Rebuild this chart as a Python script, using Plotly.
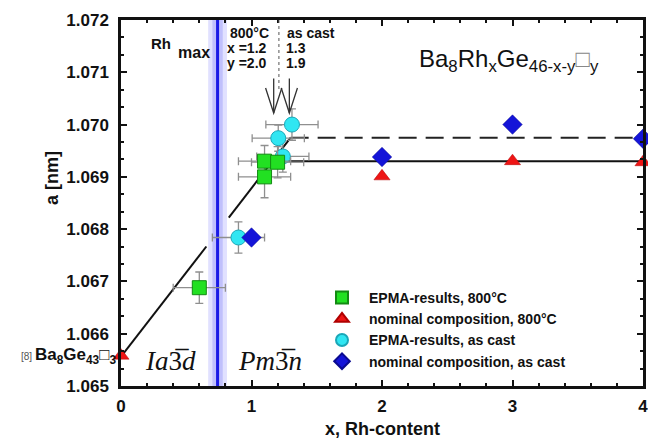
import numpy as np
import plotly.graph_objects as go

# ---------------- data ----------------
epma800_x = [0.6, 1.1, 1.1, 1.2]
epma800_y = [1.06688, 1.06900, 1.06930, 1.06928]
epma800_ex = [0.2, 0.2, 0.2, 0.2]
epma800_ey = [0.0003, 0.0004, 0.0003, 0.0003]

nom800_x = [0, 2, 3, 4]
nom800_y = [1.06558, 1.06901, 1.06930, 1.06928]

epmacast_x = [0.9, 1.24, 1.205, 1.31]
epmacast_y = [1.06784, 1.06939, 1.06974, 1.07000]
epmacast_ex = [0.2, 0.2, 0.2, 0.2]
epmacast_ey = [0.0003, 0.0003, 0.00025, 0.0003]

nomcast_x = [1.0, 2, 3, 4]
nomcast_y = [1.06784, 1.06938, 1.07000, 1.06973]

# fitted trend lines (knot points)
line800_x = [0.0, 1.16, 4.0]
line800_y = [1.06556, 1.06930, 1.06930]
linecast_x = [0.0, 1.30, 4.0]
linecast_y = [1.06556, 1.06975, 1.06975]

band_center = 0.74
band_half = 0.072
gap_half = 0.086

arrow_x = [1.17, 1.29]
arrow_top = 1.07088
arrow_tip = 1.07022
dotted_x = 1.21

FONT = "Arial, Liberation Sans, sans-serif"
SERIF = "Times New Roman, Liberation Serif, serif"

L, R, T, B = 121, 5, 20, 54
W, H = 648, 440
PW, PH = W - L - R, H - T - B

fig = go.Figure()

# rising segment (shared), with gap across the Rh_max band
rx0, rx1 = linecast_x[0], linecast_x[1]
gx0, gx1 = band_center - gap_half, band_center + gap_half
rise_x = [rx0, gx0, None, gx1, rx1]
rise_y = [np.interp(v, linecast_x, linecast_y) if v is not None else None for v in rise_x]
fig.add_trace(go.Scatter(x=rise_x, y=rise_y, mode="lines", line=dict(color="#111", width=2),
                         showlegend=False, hoverinfo="skip", cliponaxis=False))
# 800C plateau
fig.add_trace(go.Scatter(x=line800_x[1:], y=line800_y[1:], mode="lines",
                         line=dict(color="#111", width=2), showlegend=False, cliponaxis=False))
# as cast plateau (dashed)
fig.add_trace(go.Scatter(x=linecast_x[1:], y=linecast_y[1:], mode="lines",
                         line=dict(color="#222", width=2, dash="18px,9px"), showlegend=False,
                         cliponaxis=False))

eb = dict(type="data", color="#8f8f8f", thickness=1.3, width=4)

fig.add_trace(go.Scatter(
    x=epmacast_x, y=epmacast_y, mode="markers", name="EPMA-results, as cast",
    marker=dict(symbol="circle", size=15, color="#30e6f2", line=dict(color="#1aa7b8", width=1)),
    error_x=dict(array=epmacast_ex, **eb), error_y=dict(array=epmacast_ey, **eb),
    cliponaxis=False, legendrank=3))
fig.add_trace(go.Scatter(
    x=epma800_x, y=epma800_y, mode="markers", name="EPMA-results, 800°C",
    marker=dict(symbol="square", size=14, color="#22e022", line=dict(color="#138a13", width=1)),
    error_x=dict(array=epma800_ex, **eb), error_y=dict(array=epma800_ey, **eb),
    cliponaxis=False, legendrank=1))
fig.add_trace(go.Scatter(
    x=nomcast_x, y=nomcast_y, mode="markers", name="nominal composition, as cast",
    marker=dict(symbol="diamond", size=15, color="#1414d8", line=dict(color="#0a0a90", width=0.5)),
    cliponaxis=False, legendrank=4))
fig.add_trace(go.Scatter(
    x=nom800_x, y=nom800_y, mode="markers", name="nominal composition, 800°C",
    marker=dict(symbol="triangle-up", size=14, color="#ee1515", line=dict(color="#b00000", width=0.5)),
    cliponaxis=False, legendrank=2))

shapes = []
# Rh_max band
shapes.append(dict(type="rect", xref="x", yref="paper", x0=band_center - band_half,
                   x1=band_center + band_half, y0=0, y1=1, fillcolor="rgba(200,200,255,0.55)",
                   line=dict(width=0), layer="below"))
shapes.append(dict(type="rect", xref="x", yref="paper", x0=band_center - band_half * 0.55,
                   x1=band_center + band_half * 0.55, y0=0, y1=1, fillcolor="rgba(160,160,250,0.5)",
                   line=dict(width=0), layer="below"))
shapes.append(dict(type="line", xref="x", yref="paper", x0=band_center, x1=band_center, y0=0, y1=1,
                   line=dict(color="#1a1ae6", width=3), layer="below"))
# dotted separator
shapes.append(dict(type="line", xref="x", yref="y", x0=dotted_x, x1=dotted_x, y0=1.072, y1=1.07068,
                   line=dict(color="#555", width=1, dash="dot")))
# arrows
hx, hy = 0.062, 0.00048
for ax in arrow_x:
    shapes.append(dict(type="line", xref="x", yref="y", x0=ax, x1=ax, y0=arrow_top, y1=arrow_tip,
                       line=dict(color="#333", width=1.3)))
    shapes.append(dict(type="path", xref="x", yref="y",
                       path=f"M {ax-hx},{arrow_tip+hy} L {ax},{arrow_tip} L {ax+hx},{arrow_tip+hy}",
                       line=dict(color="#333", width=1.3)))

bold = dict(family=FONT, size=14, color="#111", weight="bold")
ann = []
def A(text, x, y, xref="x", yref="y", font=None, xanchor="center", yanchor="middle", angle=0):
    ann.append(dict(text=text, x=x, y=y, xref=xref, yref=yref, showarrow=False, textangle=angle,
                    font=font or bold, xanchor=xanchor, yanchor=yanchor))

def px2x(px): return (px - L) / PW * 4
def py2y(py): return 1.065 + (T + PH - py) / PH * 0.007
def ppx(px): return (px - L) / PW
def ppy(py): return 1 - (py - T) / PH

A("Rh", px2x(161), py2y(43), font=dict(family=FONT, size=15, color="#111", weight="bold"))
A("max", px2x(194), py2y(52), font=dict(family=FONT, size=16, color="#111", weight="bold"))
A("800°C", px2x(249), py2y(33))
A("x =1.2", px2x(247), py2y(48))
A("y =2.0", px2x(247), py2y(63))
A("as cast", px2x(311), py2y(33))
A("1.3", px2x(296), py2y(48))
A("1.9", px2x(296), py2y(63))
A("Ba<sub>8</sub>Rh<sub>x</sub>Ge<sub>46-x-y</sub><span style='color:#888'>□</span><sub>y</sub>",
  px2x(509), py2y(60), font=dict(family=FONT, size=24, color="#111"))
A("<i>Ia</i>3\u0305<i>d</i>", px2x(170), py2y(361), font=dict(family=SERIF, size=27, color="#111"))
A("<i>Pm</i>3\u0305<i>n</i>", px2x(270), py2y(361), font=dict(family=SERIF, size=27, color="#111"))
A("<span style='font-size:10px;font-weight:normal;color:#555'>[8] </span>Ba<sub>8</sub>Ge<sub>43</sub>□<sub>3</sub>",
  ppx(118), ppy(356), xref="paper", yref="paper", xanchor="right",
  font=dict(family=FONT, size=17, color="#111", weight="bold"))
# axis titles
A("x, Rh-content", ppx(382), ppy(429), xref="paper", yref="paper",
  font=dict(family=FONT, size=18, color="#111", weight="bold"))
A("a [nm]", ppx(52), ppy(178), xref="paper", yref="paper", angle=-90,
  font=dict(family=FONT, size=18, color="#111", weight="bold"))

axis_common = dict(showline=True, linewidth=2.5, linecolor="#111", mirror="allticks",
                   ticks="inside", ticklen=6, tickwidth=1.5, tickcolor="#111", showgrid=False,
                   zeroline=False, automargin=False, ticklabeloverflow="allow",
                   tickfont=dict(family=FONT, size=17, color="#111", weight="bold"))

fig.update_layout(
    width=W, height=H,
    margin=dict(l=L, r=R, t=T, b=B, autoexpand=False),
    paper_bgcolor="white", plot_bgcolor="white",
    shapes=shapes, annotations=ann,
    xaxis=dict(range=[0, 4], dtick=1, tick0=0, ticklabelstandoff=3,
               minor=dict(dtick=0.2, ticks="inside", ticklen=3, tickcolor="#111"),
               **axis_common),
    yaxis=dict(range=[1.065, 1.072], dtick=0.001, tick0=1.065, tickformat=".3f",
               ticklabelstandoff=6,
               minor=dict(dtick=0.001 / 3, ticks="inside", ticklen=3, tickcolor="#111"),
               **axis_common),
    legend=dict(x=ppx(315), y=ppy(282), xanchor="left", yanchor="top", bgcolor="rgba(0,0,0,0)",
                font=dict(family=FONT, size=14, color="#111", weight="bold"),
                itemsizing="constant", itemwidth=44, tracegroupgap=0),
    showlegend=True,
)

fig.write_html("out.html", config={"displayModeBar": False},
               post_script="document.body.style.margin='0';document.body.style.padding='0';")
